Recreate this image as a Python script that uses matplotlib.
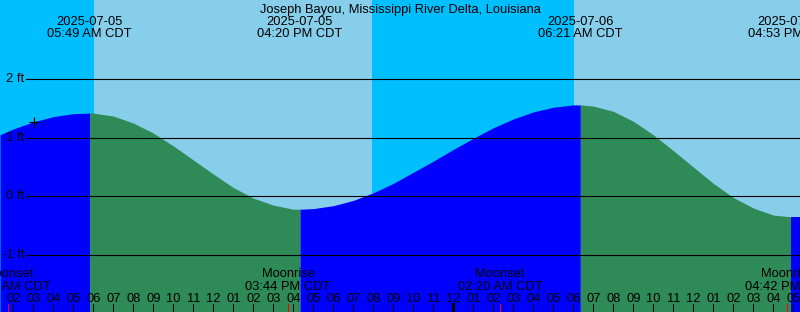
import matplotlib.pyplot as plt
import numpy as np
import pandas as pd

plt.rcParams['font.family'] = ['Liberation Sans', 'DejaVu Sans']
plt.rcParams['font.size'] = 9.3

station = "Joseph Bayou, Mississippi River Delta, Louisiana"
day0 = pd.Timestamp("2025-07-05 00:00")
view_start = pd.Timestamp("2025-07-05 01:20")
view_end = pd.Timestamp("2025-07-06 17:20")

# tide height (ft) read at each full hour, 02:00 Jul 5 .. 17:00 Jul 6
hourly_start = pd.Timestamp("2025-07-05 02:00")
hourly_ft = [1.15, 1.27, 1.36, 1.41, 1.42, 1.37, 1.25, 1.08, 0.86, 0.62,
             0.38, 0.15, -0.03, -0.15, -0.22, -0.21, -0.16, -0.07, 0.06, 0.22,
             0.41, 0.60, 0.80, 0.99, 1.17, 1.32, 1.44, 1.52, 1.56, 1.54,
             1.45, 1.28, 1.05, 0.78, 0.50, 0.22, -0.02, -0.20, -0.32, -0.35]
edge_ft = [1.05, -0.35]  # at view_start and view_end

# high / low tides
tide_times = ["2025-07-05 05:49", "2025-07-05 16:20",
              "2025-07-06 06:21", "2025-07-06 16:53"]
tide_ft = [1.42, -0.22, 1.56, -0.35]

# daylight periods
day_starts = ["2025-07-05 06:02", "2025-07-06 06:02"]
day_ends = ["2025-07-05 19:56", "2025-07-06 19:56"]

moon_times = ["2025-07-05 01:45", "2025-07-05 15:44",
              "2025-07-06 02:20", "2025-07-06 16:42"]
moon_names = ["Moonset", "Moonrise", "Moonset", "Moonrise"]

now_time = "2025-07-05 03:03"
levels = [-1, 0, 1, 2]


def hrs(t):
    return (pd.Timestamp(t) - day0) / pd.Timedelta(hours=1)


x0, x1 = hrs(view_start), hrs(view_end)
h_hours = hrs(hourly_start) + np.arange(len(hourly_ft))
ev_x = np.array([hrs(t) for t in tide_times])

xs = np.concatenate([[x0], h_hours, ev_x, [x1]])
ys = np.concatenate([[edge_ft[0]], hourly_ft, tide_ft, [edge_ft[1]]])
order = np.argsort(xs)
xs, ys = xs[order], ys[order]

W, H = 800, 312
ymin, ymax = -1.974, 3.35

fig = plt.figure(figsize=(W / 100, H / 100), dpi=100)
ax = fig.add_axes([0, 0, 1, 1])
ax.set_xlim(x0, x1)
ax.set_ylim(ymin, ymax)
ax.set_xticks([])
ax.set_yticks([])
for s in ax.spines.values():
    s.set_visible(False)
ax.set_facecolor("#00bfff")

for a, b in zip(day_starts, day_ends):
    ax.axvspan(hrs(a), hrs(b), color="#87ceeb", lw=0, zorder=0)

# tide fill: blue while rising, green while falling
bounds = np.concatenate([[x0], ev_x, [x1]])
for a, b in zip(bounds[:-1], bounds[1:]):
    m = (xs >= a) & (xs <= b)
    rising = ys[m][-1] >= ys[m][0]
    ax.fill_between(xs[m], ys[m], ymin, color="#0000ff" if rising else "#2e8b57",
                    lw=0, zorder=1)

for lv in levels:
    ax.axhline(lv, xmin=26 / W, color="black", lw=0.8, zorder=2)
    ax.text(24 / W, lv, f"{lv} ft", transform=ax.get_yaxis_transform(),
            ha="right", va="center", zorder=3)

ax.plot(hrs(now_time), np.interp(hrs(now_time), xs, ys), marker="+",
        ms=7, mew=0.9, color="black", zorder=3)

xt = ax.get_xaxis_transform()


def fy(py):
    return 1 - py / H


ax.text(0.5, fy(13), station, transform=ax.transAxes, ha="center", va="baseline")
for t in tide_times:
    ts = pd.Timestamp(t)
    ax.text(hrs(t), fy(25), ts.strftime("%Y-%m-%d"), transform=xt,
            ha="center", va="baseline")
    ax.text(hrs(t), fy(37), ts.strftime("%I:%M %p CDT"), transform=xt,
            ha="center", va="baseline")

for t, name in zip(moon_times, moon_names):
    ts = pd.Timestamp(t)
    ax.text(hrs(t), fy(277), name, transform=xt, ha="center", va="baseline")
    ax.text(hrs(t), fy(290), ts.strftime("%I:%M %p CDT"), transform=xt,
            ha="center", va="baseline")
    ax.axvline(hrs(t), ymin=0, ymax=8 / H, color="red", lw=0.75, zorder=3)

for h in range(int(np.ceil(x0)), int(x1) + 1):
    lab = f"{(h % 12) or 12:02d}"
    ax.text(h, fy(302), lab, transform=xt, ha="center", va="baseline")
    ax.axvline(h, ymin=0, ymax=8 / H, color="black",
               lw=2.2 if h % 24 == 0 else 0.75, zorder=3)

fig.savefig("out.png", dpi=100)
